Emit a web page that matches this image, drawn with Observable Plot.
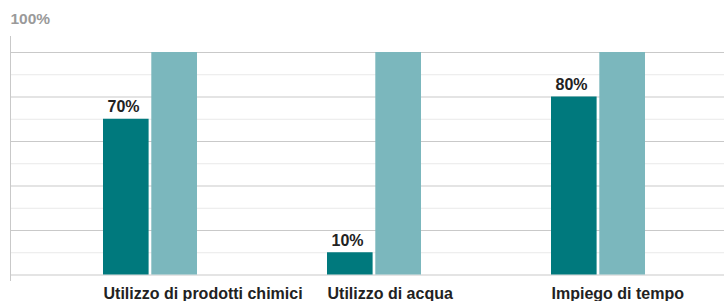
<!DOCTYPE html>
<html>
<head>
<meta charset="utf-8">
<script src="https://cdn.jsdelivr.net/npm/d3@7"></script>
<script src="https://cdn.jsdelivr.net/npm/@observablehq/plot@0.6"></script>
<style>
  html, body { margin: 0; padding: 0; background: #fff; }
</style>
</head>
<body>
<div id="chart"></div>
<script>
const categories = ["Utilizzo di prodotti chimici", "Utilizzo di acqua", "Impiego di tempo"];
const seriesA = [70, 10, 80];
const seriesB = [100, 100, 100];
const valueLabels = ["70%", "10%", "80%"];
const majorTicks = [0, 20, 40, 60, 80, 100];
const minorTicks = [10, 30, 50, 70, 90];
const topLabel = "100%";

const darkColor = "#00797d";
const lightColor = "#7bb7bd";

const chart = Plot.plot({
  width: 724,
  height: 301,
  marginLeft: 10,
  marginRight: 0,
  marginTop: 36,
  marginBottom: 21,
  style: { fontFamily: "'Liberation Sans', Arial, Helvetica, sans-serif", background: "#fff" },
  x: { type: "band", domain: categories, range: [36.45, 710.85], paddingInner: 0.58, paddingOuter: 0.29, axis: null },
  y: { domain: [0, 100], range: [274.5, 52], axis: null },
  marks: [
    Plot.ruleY(minorTicks, { stroke: "#e9e9e9" }),
    Plot.ruleY(majorTicks, { stroke: "#c9c9c9" }),
    Plot.frame({ anchor: "left", stroke: "#c9c9c9" }),
    Plot.barY(seriesA, { x: categories, y: seriesA, fill: darkColor, insetRight: 48.4 }),
    Plot.barY(seriesB, { x: categories, y: seriesB, fill: lightColor, insetLeft: 48.3 }),
    Plot.text(seriesA, { x: categories, y: seriesA, text: valueLabels, dx: -27, dy: -12, lineAnchor: "middle", fontSize: 16, fontWeight: "bold", fill: "#222" }),
    Plot.text(categories, { x: d => d, frameAnchor: "bottom", text: d => d, textAnchor: "start", dx: -47, dy: 13, lineAnchor: "middle", fontSize: 16, fontWeight: "bold", fill: "#222" }),
    Plot.text([topLabel], { frameAnchor: "top-left", text: d => d, textAnchor: "start", lineAnchor: "middle", dy: -17.5, fontSize: 15.5, fontWeight: "bold", fill: "#9a9a9a" })
  ]
});
document.getElementById("chart").appendChild(chart);
</script>
</body>
</html>
